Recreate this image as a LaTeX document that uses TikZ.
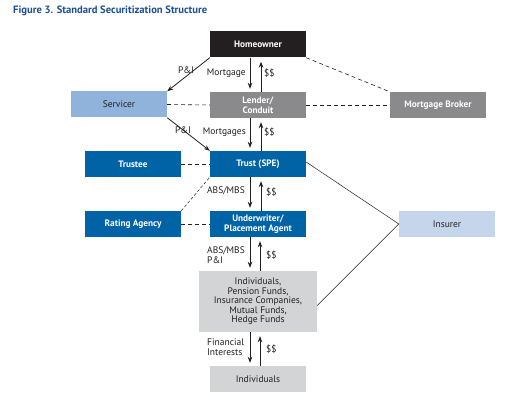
\documentclass[tikz,border=0pt]{standalone}
\usepackage{fontspec}
\setmainfont{PT Sans}
\usetikzlibrary{arrows.meta}
\definecolor{dblue}{RGB}{0,99,166}
\definecolor{lblue}{RGB}{143,179,218}
\definecolor{pblue}{RGB}{197,214,236}
\definecolor{mgray}{RGB}{138,138,140}
\definecolor{lgray}{RGB}{211,212,214}
\definecolor{tblue}{RGB}{28,80,148}
\definecolor{txt}{RGB}{35,31,32}
\begin{document}
\begin{tikzpicture}[x=1pt,y=-1pt,
  box/.style={minimum width=96pt, minimum height=26pt, inner sep=0pt, align=center},
  dk/.style={box, fill=#1, text=white, font=\fontsize{9.3}{9.8}\selectfont\bfseries},
  lt/.style={box, fill=#1, text=txt, font=\fontsize{9.5}{9.5}\selectfont},
  flow/.style={-{Stealth[length=6pt,width=4.5pt]}, line width=0.8pt, draw=txt},
  dsh/.style={draw=txt, dash pattern=on 4pt off 3pt, line width=0.6pt},
  fdsh/.style={draw=txt, dash pattern=on 3pt off 2pt, line width=0.5pt},
  thin line/.style={draw=txt, line width=0.5pt},
  lbl/.style={font=\fontsize{9.5}{10}\selectfont, text=txt, inner sep=0pt}]
\useasboundingbox (0,0) rectangle (519,403);
\fill[white] (0,0) rectangle (519,403);

\node[anchor=base west, inner sep=0pt, font=\bfseries\fontsize{10.6}{11}\selectfont, text=tblue] (title) at (13,14) {Figure 3. Standard Securitization Structure};

\node[dk=txt] (home) at (258,44.5) {Homeowner};
\node[dk=mgray] (lender) at (258,105) {Lender/\\Conduit};
\node[lt=lblue] (servicer) at (119,104.5) {Servicer};
\node[dk=mgray] (broker) at (438,105) {Mortgage Broker};
\node[dk=dblue] (trustee) at (133,164) {Trustee};
\node[dk=dblue] (trust) at (258,164) {Trust (SPE)};
\node[dk=dblue] (rating) at (133,224) {Rating Agency};
\node[dk=dblue] (under) at (258,224) {Underwriter/\\Placement Agent};
\node[lt=pblue] (insurer) at (447,224) {Insurer};
\node[lt=lgray, minimum width=118pt, minimum height=61pt] (funds) at (258,301.5) {Individuals,\\Pension Funds,\\Insurance Companies,\\Mutual Funds,\\Hedge Funds};
\node[lt=lgray] (indiv) at (258,379) {Individuals};

% vertical flows
\draw[flow, shorten >=3pt] ([xshift=-8pt]home.south) -- ([xshift=-8pt]lender.north);
\draw[flow, shorten >=4pt] ([xshift=3pt]lender.north) -- ([xshift=3pt]home.south);
\draw[flow, shorten >=3pt] ([xshift=-8pt]lender.south) -- ([xshift=-8pt]trust.north);
\draw[flow, shorten >=4pt] ([xshift=3pt]trust.north) -- ([xshift=3pt]lender.south);
\draw[flow, shorten >=3pt] ([xshift=-8pt]trust.south) -- ([xshift=-8pt]under.north);
\draw[flow, shorten >=4pt] ([xshift=3pt]under.north) -- ([xshift=3pt]trust.south);
\draw[flow, shorten >=3pt] ([xshift=-8pt]under.south) -- ([xshift=-8pt]funds.north);
\draw[flow, shorten >=4pt] ([xshift=2pt]funds.north) -- ([xshift=2pt]under.south);
\draw[flow, shorten >=3pt] ([xshift=-8pt]funds.south) -- ([xshift=-8pt]indiv.north);
\draw[flow, shorten >=4pt] ([xshift=2pt]indiv.north) -- ([xshift=2pt]funds.south);

% labels
\node[lbl, anchor=east] (l1) at (246,73) {Mortgage};
\node[lbl, anchor=west] (d1) at (264,73) {\$\$};
\node[lbl, anchor=east] (l2) at (246,132) {Mortgages};
\node[lbl, anchor=west] (d2) at (264,132) {\$\$};
\node[lbl, anchor=east] (l3) at (245,191) {ABS/MBS};
\node[lbl, anchor=west] (d3) at (266,192) {\$\$};
\node[lbl, anchor=north west, align=left] (l4) at (207,247) {ABS/MBS\\P\&I};
\node[lbl, anchor=west] (d4) at (266,255) {\$\$};
\node[lbl, anchor=north west, align=left] (l5) at (207,339) {Financial\\Interests};
\node[lbl, anchor=west] (d5) at (266,349) {\$\$};
\node[lbl] (p1) at (186,70) {P\&I};
\node[lbl] (p2) at (183,130) {P\&I};

% diagonal flows
\draw[flow] (home.south west) -- (servicer.north east);
\draw[flow] (servicer.south east) -- (trust.north west);

% dashed relations
\draw[dsh] (home.south east) -- (broker.north west);
\draw[dsh] (servicer.east) -- (lender.west);
\draw[dsh] (lender.east) -- (broker.west);
\draw[dsh] (trustee.east) -- (trust.west);
\draw[dsh] (rating.east) -- (under.west);
\draw[fdsh] (rating.north east) -- (trust.south west);

% insurer
\draw[thin line] ([yshift=2pt]trust.east) -- (insurer.west);
\draw[thin line] ([yshift=-4pt]funds.east) -- (insurer.west);
\end{tikzpicture}
\end{document}
